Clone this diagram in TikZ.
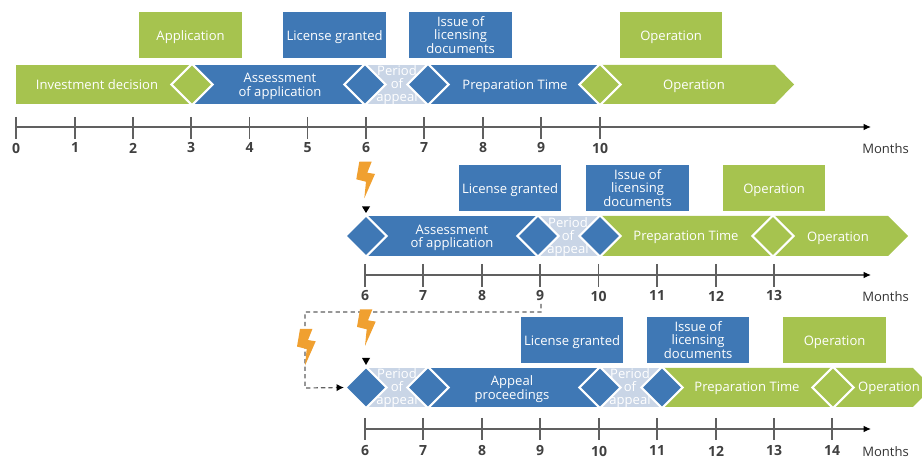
\documentclass[tikz,border=0pt]{standalone}
\usepackage{fontspec}
\setmainfont{Open Sans}
\usetikzlibrary{shapes.geometric,arrows.meta}
\definecolor{grn}{HTML}{A6C34F}
\definecolor{blu}{HTML}{3F78B5}
\definecolor{pale}{HTML}{C9D5E6}
\definecolor{bolt}{HTML}{F0A030}
\definecolor{axisc}{HTML}{606060}
\tikzset{
  lab/.style={text=white,font=\fontsize{9.8}{10}\selectfont,align=center,inner sep=0pt},
  one/.style={text height=8.8pt,text depth=1.3pt},
  bx/.style={lab,minimum width=77pt,minimum height=34.2pt,anchor=north west},
  gbx/.style={bx,one,fill=grn},
  bbx/.style={bx,fill=blu},
  dia/.style={diamond,draw=white,line width=1.6pt,minimum width=31.5pt,minimum height=31.5pt,inner sep=0pt},
  gdia/.style={dia,fill=grn},
  bdia/.style={dia,fill=blu},
  axisl/.style={draw=axisc,line width=0.9pt,-{Latex[length=5.5pt,width=5pt,color=black]}},
  tickl/.style={draw=axisc,line width=0.8pt},
  num/.style={text=black!75,font=\fontsize{10.5}{10}\selectfont\bfseries,inner sep=0pt},
  mon/.style={text=black!80,font=\fontsize{9.8}{10}\selectfont,inner sep=0pt,anchor=west},
  boltf/.style={fill=bolt},
  head/.style={fill=black},
  dashc/.style={draw=axisc,line width=0.9pt,dash pattern=on 3.2pt off 2.4pt,-{Latex[length=5.5pt,width=5.5pt,color=black]}}
}
\begin{document}
\begin{tikzpicture}[x=0.75pt,y=-0.75pt]
\useasboundingbox (0,0) rectangle (922,459);
\begin{scope}
\clip (0,0) rectangle (922,459);
% ---------- row 1
\node[gbx] (a1) at (139,12) {Application};
\node[bbx,one] (a2) at (283,12) {License granted};
\node[bbx] (a3) at (409,12) {Issue of\\licensing\\documents};
\node[gbx] (a4) at (619.5,12) {Operation};
\fill[grn] (15.5,65) rectangle (192,104);
\fill[blu] (192,65) rectangle (365,104);
\fill[pale] (365,65) rectangle (428,104);
\fill[blu] (428,65) rectangle (600,104);
\fill[grn] (600,65) -- (775,65) -- (794,84.5) -- (775,104) -- (600,104) -- cycle;
\node[lab,one] (b1) at (97,84.5) {Investment decision};
\node[lab] (b2) at (280,86.5) {Assessment\\of application};
\node[lab] (b3) at (397,85) {Period\\of\\appeal};
\node[lab,one] (b4) at (515,84.5) {Preparation Time};
\node[lab,one] (b5) at (694,84.5) {Operation};
\node[gdia] (d11) at (192,84.5) {};
\node[bdia] (d12) at (365,84.5) {};
\node[bdia] (d13) at (428,84.5) {};
\node[gdia] (d14) at (600,84.5) {};
\coordinate (ax1s) at (16,127);
\coordinate (ax1e) at (871,127);
\draw[axisl] (ax1s) -- (ax1e);
\foreach \x/\t in {16/0,75/1,133/2,191/3,249.5/4,307.5/5,366/6,424/7,483/8,541/9,600/10}{
  \draw[tickl] (\x,117) -- (\x,139);
  \node[num] (t1\t) at (\x,148) {\t};
}
\node[mon] (m1) at (862,149) {Months};
% ---------- row 2
\fill[blu] (366,216) rectangle (538,256);
\fill[pale] (538,216) rectangle (600,256);
\fill[grn] (600,216) -- (888,216) -- (908,236) -- (888,256) -- (600,256) -- cycle;
\node[bbx,one] (c1) at (458.5,165) {License granted};
\node[bbx] (c2) at (586,165) {Issue of\\licensing\\documents};
\node[gbx] (c3) at (722.5,165) {Operation};
\node[lab] (e1) at (452,238) {Assessment\\of application};
\node[lab] (e2) at (568,237) {Period\\of\\appeal};
\node[lab,one] (e3) at (686,236) {Preparation Time};
\node[lab,one] (e4) at (838,237) {Operation};
\node[bdia] (d21) at (366,236) {};
\node[bdia] (d22) at (538,236) {};
\node[bdia] (d23) at (600,236) {};
\node[gdia] (d24) at (773,236) {};
\coordinate (ax2s) at (365,275);
\coordinate (ax2e) at (871,275);
\draw[axisl] (ax2s) -- (ax2e);
\foreach \x/\t in {365/6,423/7,482/8,540/9,598.5/10,657/11,716/12,774/13}{
  \draw[tickl] (\x,264) -- (\x,287);
  \node[num] (t2\t) at (\x,296) {\t};
}
\node[mon] (m2) at (862,297) {Months};
\fill[boltf] (359.3,161.7) -- (371.7,161.7) -- (367.3,172.7) -- (375,174) -- (364.3,198.3) -- (366,181.7) -- (356.3,179.3) -- cycle;
\fill[head] (362,206.5) -- (370,206.5) -- (366,213) -- cycle;
% ---------- row 3
\fill[pale] (366,368) rectangle (428,407);
\fill[blu] (428,368) rectangle (600,407);
\fill[pale] (600,368) rectangle (662,407);
\fill[grn] (662,368) -- (913,368) -- (932,387.5) -- (913,407) -- (662,407) -- cycle;
\node[bbx,one] (f1) at (520.5,317) {License granted};
\node[bbx] (f2) at (646.5,317) {Issue of\\licensing\\documents};
\node[gbx] (f3) at (783,317) {Operation};
\node[lab] (g1) at (397,388) {Period\\of\\appeal};
\node[lab] (g2) at (512,389) {Appeal\\proceedings};
\node[lab] (g3) at (630,388) {Period\\of\\appeal};
\node[lab,one] (g4) at (747,387) {Preparation Time};
\node[lab,one] (g5) at (889,387) {Operation};
\node[bdia] (d31) at (366,387.5) {};
\node[bdia] (d32) at (428,387.5) {};
\node[bdia] (d33) at (600,387.5) {};
\node[bdia] (d34) at (662,387.5) {};
\node[gdia] (d35) at (833,387.5) {};
\coordinate (ax3s) at (365,429);
\coordinate (ax3e) at (871,429);
\draw[axisl] (ax3s) -- (ax3e);
\foreach \x/\t in {365/6,423/7,482/8,540/9,599/10,657/11,716/12,774/13,832/14}{
  \draw[tickl] (\x,418) -- (\x,440);
  \node[num] (t3\t) at (\x,451) {\t};
}
\node[mon] (m3) at (862,452) {Months};
\coordinate (ds) at (541,304);
\coordinate (dc1) at (541,312);
\coordinate (dc2) at (305,312);
\coordinate (dc3) at (305,388);
\draw[dashc] (ds) -- (dc1) -- (dc2) -- (dc3) -- (d31.west);
\fill[boltf] (360,309.3) -- (372.4,309.3) -- (368,320.3) -- (375.7,321.6) -- (365,345.9) -- (366.7,329.3) -- (357,326.9) -- cycle;
\fill[boltf] (300,329) -- (312.4,329) -- (308,340) -- (315.7,341.3) -- (305,365.6) -- (306.7,349) -- (297,346.6) -- cycle;
\fill[head] (362,358) -- (370,358) -- (366,365) -- cycle;
\end{scope}
\end{tikzpicture}
\end{document}
